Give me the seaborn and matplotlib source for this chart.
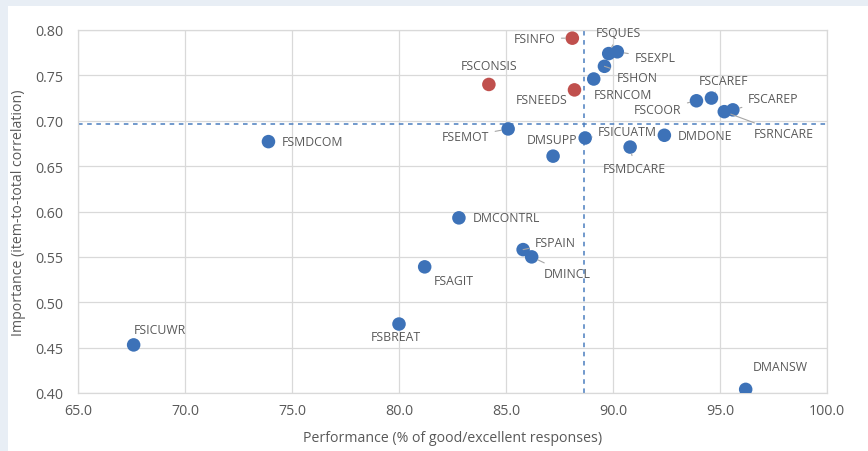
import pandas as pd
import matplotlib.pyplot as plt
import seaborn as sns

# --- data ---
items = ['FSICUWR', 'FSMDCOM', 'FSBREAT', 'FSAGIT', 'DMCONTRL', 'FSEMOT', 'FSCONSIS',
         'FSPAIN', 'DMINCL', 'DMSUPP', 'FSICUATM', 'FSINFO', 'FSNEEDS', 'FSRNCOM',
         'FSHON', 'FSQUES', 'FSEXPL', 'FSMDCARE', 'DMDONE', 'FSCOOR', 'FSCAREF',
         'FSRNCARE', 'FSCAREP', 'DMANSW']
performance = [67.6, 73.9, 80.0, 81.2, 82.8, 85.1, 84.2,
               85.8, 86.2, 87.2, 88.7, 88.1, 88.2, 89.1,
               89.6, 89.8, 90.2, 90.8, 92.4, 93.9, 94.6,
               95.2, 95.6, 96.2]
importance = [0.453, 0.677, 0.476, 0.539, 0.593, 0.691, 0.740,
              0.558, 0.550, 0.661, 0.681, 0.791, 0.734, 0.746,
              0.760, 0.774, 0.776, 0.671, 0.684, 0.722, 0.725,
              0.710, 0.712, 0.404]
group = ['other'] * len(items)
for name in ['FSCONSIS', 'FSINFO', 'FSNEEDS']:
    group[items.index(name)] = 'flag'
mean_performance = 88.65
mean_importance = 0.6965

df = pd.DataFrame({'item': items, 'perf': performance, 'imp': importance, 'group': group})

# label placement: (dx px, dy px, ha, leader line)
label_pos = {
    'FSICUWR': (0, 15, 'left', False), 'FSMDCOM': (13, 0, 'left', False),
    'FSBREAT': (-3, -12, 'center', False), 'FSAGIT': (9, -14, 'left', False),
    'DMCONTRL': (14, 0, 'left', False), 'FSEMOT': (-19, -8, 'right', True),
    'FSCONSIS': (0, 19, 'center', False), 'FSPAIN': (12, 7, 'left', True),
    'DMINCL': (12, -17, 'left', True), 'DMSUPP': (24, 17, 'right', False),
    'FSICUATM': (13, 6, 'left', True), 'FSINFO': (-17, 0, 'right', True),
    'FSNEEDS': (-7, -10, 'right', False), 'FSRNCOM': (0, -15, 'left', False),
    'FSHON': (12, -11, 'left', True), 'FSQUES': (-13, 21, 'left', True),
    'FSEXPL': (17, -6, 'left', True), 'FSMDCARE': (-27, -21, 'left', True),
    'DMDONE': (13, 0, 'left', False), 'FSCOOR': (-15, -9, 'right', True),
    'FSCAREF': (-13, 18, 'left', True), 'FSRNCARE': (29, -22, 'left', True),
    'FSCAREP': (15, 11, 'left', True), 'DMANSW': (7, 23, 'left', False),
}

sns.set_theme(style='white')
plt.rcParams['font.family'] = ['Open Sans', 'DejaVu Sans']
text_c = '#595959'

fig = plt.figure(figsize=(8.68, 4.52), dpi=100, facecolor='#e8eef5')
# white panel inside the light-blue frame
fig.patches.append(plt.Rectangle((8 / 868, 0), 1, 1 - 7 / 452, transform=fig.transFigure,
                                 facecolor='white', edgecolor='none', zorder=-10))
ax = fig.add_axes([78 / 868, 1 - 394 / 452, (827 - 78) / 868, (394 - 31) / 452])
ax.set_facecolor('white')

ax.axvline(mean_performance, color='#4a7dbf', ls=(0, (3, 3)), lw=1.1, zorder=1)
ax.axhline(mean_importance, color='#4a7dbf', ls=(0, (3, 3)), lw=1.1, zorder=1)

sns.scatterplot(data=df, x='perf', y='imp', hue='group',
                palette={'other': '#3d72b8', 'flag': '#c0504d'},
                s=95, edgecolor='none', legend=False, ax=ax, zorder=3)

for name, px, py in zip(items, performance, importance):
    dx, dy, ha, leader = label_pos[name]
    arrow = dict(arrowstyle='-', color='#a6a6a6', lw=0.8, shrinkA=2, shrinkB=5) if leader else None
    ax.annotate(name, (px, py), xytext=(dx, dy), textcoords='offset pixels',
                ha=ha, va='center', fontsize=8.8, color=text_c,
                arrowprops=arrow, zorder=4)

ax.set_xlim(65, 100)
ax.set_ylim(0.40, 0.80)
ax.set_xticks([65, 70, 75, 80, 85, 90, 95, 100])
ax.set_xticklabels([f'{v:.1f}' for v in ax.get_xticks()])
ax.set_yticks([0.40, 0.45, 0.50, 0.55, 0.60, 0.65, 0.70, 0.75, 0.80])
ax.set_yticklabels([f'{v:.2f}' for v in ax.get_yticks()])
ax.grid(True, color='#d9d9d9', lw=0.9)
ax.set_axisbelow(True)
for sp in ax.spines.values():
    sp.set_color('#d9d9d9')
    sp.set_linewidth(0.9)
ax.tick_params(axis='y', length=0, labelsize=10.3, labelcolor=text_c, pad=10.5)
ax.tick_params(axis='x', length=0, labelsize=10.3, labelcolor=text_c, pad=7)
ax.set_xlabel('Performance (% of good/excellent responses)', fontsize=10.2, color=text_c, labelpad=9)
ax.set_ylabel('Importance (item-to-total correlation)', fontsize=10.2, color=text_c, labelpad=7)

fig.savefig('out.png', dpi=100, facecolor=fig.get_facecolor())
